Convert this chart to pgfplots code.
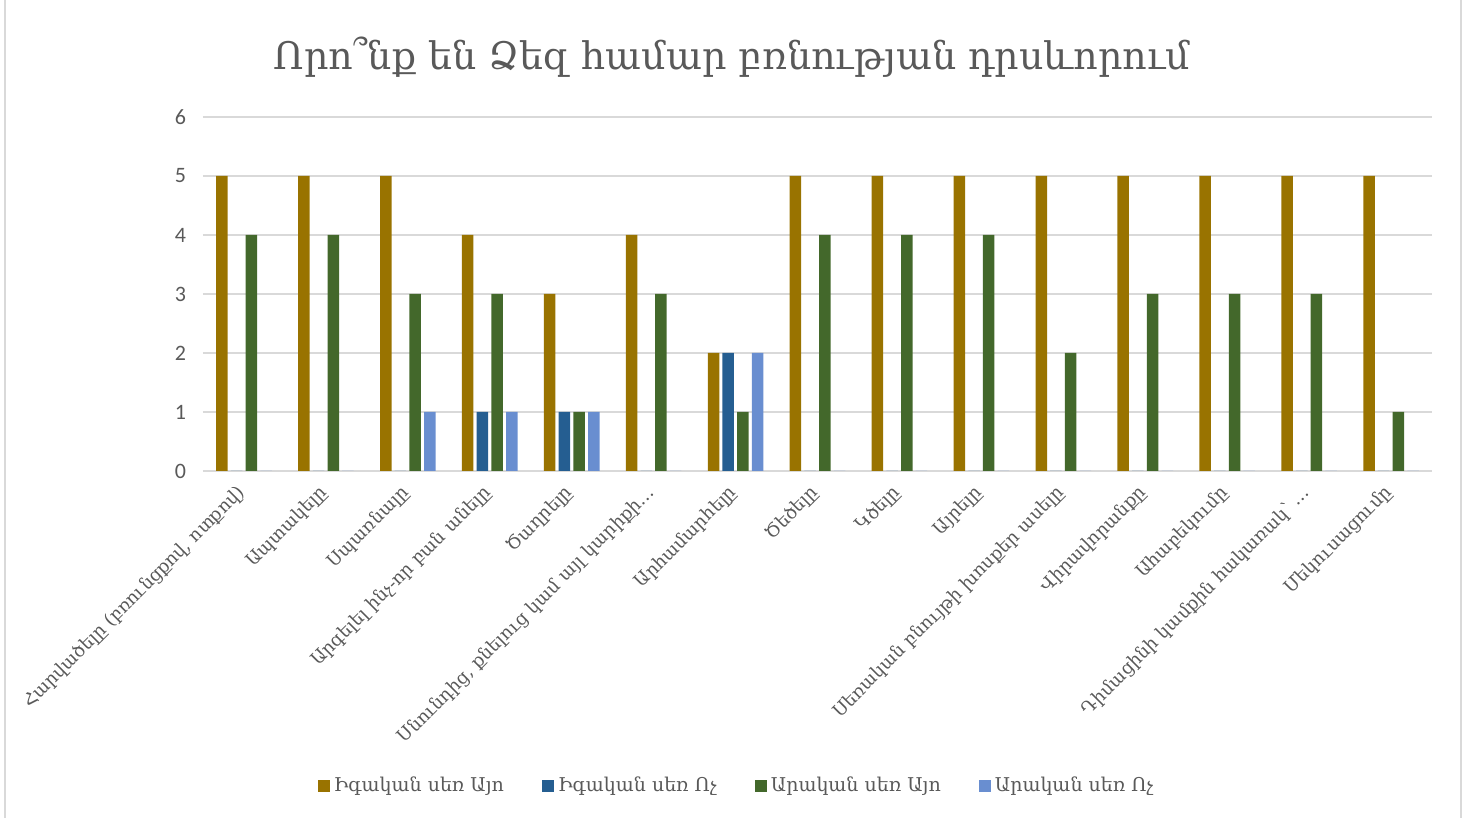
\documentclass[border=0pt]{standalone}
\usepackage{fontspec}
\setmainfont{DejaVu Serif}
\newfontfamily\numfont{Carlito}
\usepackage{pgfplots}
\pgfplotsset{compat=1.18}
\definecolor{c1}{HTML}{997300}
\definecolor{c2}{HTML}{255E91}
\definecolor{c3}{HTML}{43682B}
\definecolor{c4}{HTML}{698ED0}
\definecolor{txt}{HTML}{595959}
\definecolor{grd}{HTML}{D9D9D9}
\begin{document}
\begin{tikzpicture}
\useasboundingbox (0,0) rectangle (732.5pt,409pt);
\draw[grd, line width=0.8pt] (2.5pt,0) -- (2.5pt,409pt);
\draw[grd, line width=0.8pt] (730.5pt,0) -- (730.5pt,409pt);
\node[txt, font=\fontsize{19}{22}\selectfont] at (366pt,380.5pt) {Որո՞նք են Ձեզ համար բռնության դրսևորում};
\begin{axis}[
 at={(101.5pt,173.5pt)}, anchor=south west,
 width=614.5pt, height=177pt, scale only axis,
 xmin=-0.5, xmax=14.5, ymin=0, ymax=6,
 ytick={0,1,2,3,4,5,6}, xtick={0,1,...,14},
 xticklabels={{Հարվածելը (բռունցքով, ոտքով)},{Ապտակելը},{Սպառնալը},{Արգելել ինչ-որ բան անելը},{Ծաղրելը},{Սնունդից, քնելուց կամ այլ կարիքի…},{Արհամարհելը},{Ծեծելը},{Կծելը},{Այրելը},{Սեռական բնույթի խոսքեր ասելը},{Վիրավորանքը},{Ահաբեկումը},{Դիմացինի կամքին հակառակ՝ …},{Մեկուսացումը}},
 ybar=1.6pt, bar width=5.75pt,
 axis line style={draw=none},
 tick style={draw=none},
 ymajorgrids, grid style={grd, line width=0.8pt},
 /pgf/number format/assume math mode=true,
 yticklabel style={txt, font=\numfont\fontsize{11}{13}\selectfont, xshift=-5pt},
 xticklabel style={txt, rotate=45, anchor=east, font=\fontsize{9}{11}\selectfont, xshift=-1pt, yshift=-3pt},
 legend columns=4,
 legend style={at={(0.435,-0.89)}, anchor=center, draw=none, fill=none, text=txt,
   font=\fontsize{9.5}{11}\selectfont,
   /tikz/every even column/.append style={column sep=17pt}},
 legend image code/.code={\fill[#1] (0pt,-3pt) rectangle (6pt,3pt);},
]
\addplot[fill=c1, draw=none] coordinates {(0,5) (1,5) (2,5) (3,4) (4,3) (5,4) (6,2) (7,5) (8,5) (9,5) (10,5) (11,5) (12,5) (13,5) (14,5)};
\addplot[fill=c2, draw=none] coordinates {(0,0) (1,0) (2,0) (3,1) (4,1) (5,0) (6,2) (7,0) (8,0) (9,0) (10,0) (11,0) (12,0) (13,0) (14,0)};
\addplot[fill=c3, draw=none] coordinates {(0,4) (1,4) (2,3) (3,3) (4,1) (5,3) (6,1) (7,4) (8,4) (9,4) (10,2) (11,3) (12,3) (13,3) (14,1)};
\addplot[fill=c4, draw=none] coordinates {(0,0) (1,0) (2,1) (3,1) (4,1) (5,0) (6,2) (7,0) (8,0) (9,0) (10,0) (11,0) (12,0) (13,0) (14,0)};
\legend{Իգական սեռ Այո, Իգական սեռ Ոչ, Արական սեռ Այո, Արական սեռ Ոչ}
\end{axis}
\end{tikzpicture}
\end{document}
